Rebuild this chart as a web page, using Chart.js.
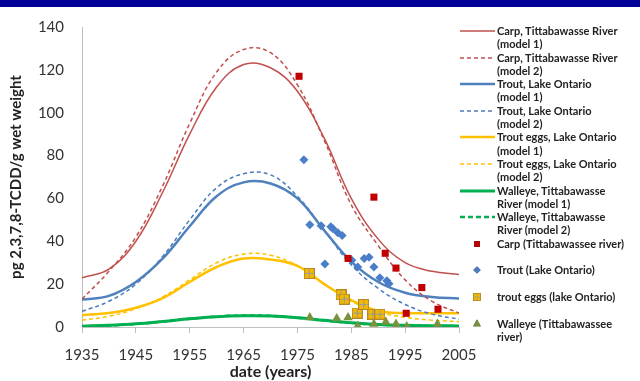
<!DOCTYPE html>
<html lang="en">
<head>
<meta charset="UTF-8" />
<title>TCDD in fish over time</title>
<script src="https://cdn.jsdelivr.net/npm/chart.js"></script>
<style>
  html, body { margin: 0; padding: 0; background: #fff; }
  #wrap { position: relative; width: 640px; height: 381px; overflow: hidden; }
  #topbar { position: absolute; left: 0; top: 0; width: 640px; height: 7px; background: #000099; }
  #legend {
    position: absolute; left: 458px; top: 24px; width: 182px;
    font-family: Lato, "Open Sans", sans-serif; font-weight: 700; font-size: 11px;
    line-height: 13.3px; color: #222;
  }
  .item { position: relative; height: 26.6px; }
  .item canvas { position: absolute; left: 0; top: 0; }
  .item span { position: absolute; left: 39px; top: 0; white-space: nowrap; }
</style>
</head>
<body>
<div id="wrap">
  <canvas id="chart" width="640" height="381"></canvas>
  <div id="topbar"></div>
  <div id="legend"></div>
</div>
<script>
  // model curves, read every 5 years
  const years = [1935, 1940, 1945, 1950, 1955, 1960, 1965, 1970, 1975, 1980, 1985, 1990, 1995, 2000, 2005];
  const carpModel1 = [23, 27, 40, 63, 90, 112, 122.5, 121, 110, 88, 60, 41, 30, 26, 24.5];
  const carpModel2 = [13, 26, 42, 66, 95, 119, 129.5, 128, 113, 87, 57, 38, 22, 12, 6.5];
  const troutModel1 = [12.8, 14.5, 21, 32, 47, 61, 67.5, 67, 60, 45, 30.5, 21, 16, 14, 13.3];
  const troutModel2 = [7.3, 12, 20, 33, 50, 65, 71.5, 71, 61, 45, 29, 18, 10.5, 6, 3.7];
  const eggsModel1 = [5.5, 6.5, 9, 13.5, 21, 28, 32, 31.5, 28.5, 20, 12.5, 7.5, 6.5, 6.4, 6.4];
  const eggsModel2 = [3.2, 5, 8.5, 14, 22, 30, 34, 33.5, 28.5, 20, 12, 7, 4.5, 3.2, 2.5];
  const walleyeModel1 = [0.4, 0.8, 1.5, 2.6, 3.8, 4.8, 5.2, 5.1, 4.3, 3.1, 2, 1.2, 0.8, 0.6, 0.5];
  const walleyeModel2 = [0.3, 0.7, 1.4, 2.5, 3.8, 4.9, 5.4, 5.2, 4.3, 3, 1.9, 1.1, 0.7, 0.5, 0.4];

  // measured samples
  const carpYears = [1975.3, 1984.4, 1989.2, 1991.3, 1993.3, 1995.2, 1998.1, 2001.1];
  const carpValues = [117, 32, 60.6, 34.4, 27.5, 6.4, 18.4, 8.3];
  const troutYears = [1976.2, 1977.3, 1979.4, 1980.1, 1981.2, 1981.6, 1982.5, 1983.3, 1985.1, 1986.2, 1987.4, 1988.3, 1989.2, 1990.3, 1991.6, 1992];
  const troutValues = [78, 47.7, 47.3, 29.4, 46.8, 45.9, 44, 42.7, 31.2, 28, 32, 32.6, 28, 23, 21.6, 20.2];
  const eggYears = [1977.2, 1983.1, 1983.7, 1986.1, 1987.3, 1989, 1990.3];
  const eggValues = [25, 15, 13, 6.5, 10.5, 6, 6];
  const walleyeYears = [1977.3, 1982.3, 1984.4, 1986.2, 1989.2, 1991.4, 1993.3, 1995.3, 2001];
  const walleyeValues = [4.4, 4, 4.4, 0.5, 1.4, 2.3, 1.4, 0.2, 1.4];

  const xTicks = [1935, 1945, 1955, 1965, 1975, 1985, 1995, 2005];

  const pts = (xs, ys) => xs.map((x, i) => ({ x: x, y: ys[i] }));

  // yellow square with a plus, for the trout eggs
  function eggMarker() {
    const c = document.createElement('canvas');
    c.width = 11; c.height = 11;
    const g = c.getContext('2d');
    g.fillStyle = '#F5B800';
    g.fillRect(0, 0, 11, 11);
    g.strokeStyle = '#B08A2A';
    g.lineWidth = 1;
    g.strokeRect(0.5, 0.5, 10, 10);
    g.strokeStyle = '#8E9BA8';
    g.beginPath();
    g.moveTo(5.5, 1.5); g.lineTo(5.5, 9.5);
    g.moveTo(1.5, 5.5); g.lineTo(9.5, 5.5);
    g.stroke();
    return c;
  }
  const eggIcon = eggMarker();

  function curve(label, lines, values, color, width, dash) {
    return {
      label: label, legendLines: lines,
      data: pts(years, values),
      borderColor: color, backgroundColor: color,
      borderWidth: width, borderDash: dash || [],
      pointRadius: 0, tension: 0.4,
      fill: false, order: 2
    };
  }
  function marks(label, lines, xs, ys, color, style, radius) {
    return {
      label: label, legendLines: lines,
      data: pts(xs, ys), showLine: false,
      pointStyle: style, pointRadius: radius,
      backgroundColor: color, borderColor: color, borderWidth: 0,
      order: 1
    };
  }

  const datasets = [
    curve('Carp, Tittabawasse River (model 1)', ['Carp, Tittabawasse River', '(model 1)'], carpModel1, '#C0504D', 1.5),
    curve('Carp, Tittabawasse River (model 2)', ['Carp, Tittabawasse River', '(model 2)'], carpModel2, '#C0504D', 1.5, [4, 3]),
    curve('Trout, Lake Ontario (model 1)', ['Trout, Lake Ontario', '(model 1)'], troutModel1, '#4F81BD', 2.5),
    curve('Trout, Lake Ontario (model 2)', ['Trout, Lake Ontario', '(model 2)'], troutModel2, '#4A7EBB', 1.5, [4, 3]),
    curve('Trout eggs, Lake Ontario (model 1)', ['Trout eggs, Lake Ontario', '(model 1)'], eggsModel1, '#FFC000', 2.5),
    curve('Trout eggs, Lake Ontario (model 2)', ['Trout eggs, Lake Ontario', '(model 2)'], eggsModel2, '#FFC000', 1.5, [4, 3]),
    curve('Walleye, Tittabawasse River (model 1)', ['Walleye, Tittabawasse', 'River (model 1)'], walleyeModel1, '#00B050', 3),
    curve('Walleye, Tittabawasse River (model 2)', ['Walleye, Tittabawasse', 'River (model 2)'], walleyeModel2, '#00B050', 2.5, [5, 3]),
    marks('Carp (Tittabawassee river)', ['Carp (Tittabawassee river)'], carpYears, carpValues, '#C00000', 'rect', 5),
    marks('Trout (Lake Ontario)', ['Trout (Lake Ontario)'], troutYears, troutValues, '#4A7EC8', 'rectRot', 4.5),
    marks('trout eggs (lake Ontario)', ['trout eggs (lake Ontario)'], eggYears, eggValues, '#F5B800', eggIcon, 5),
    marks('Walleye (Tittabawassee river)', ['Walleye (Tittabawassee', 'river)'], walleyeYears, walleyeValues, '#77933C', 'triangle', 5.5)
  ];

  const axisGrey = '#BFBFBF';
  const tickFont = { family: 'Lato, "Open Sans", sans-serif', size: 15 };

  new Chart(document.getElementById('chart'), {
    type: 'line',
    data: { datasets: datasets },
    options: {
      responsive: false,
      animation: false,
      layout: { padding: { left: 0, right: 181, top: 22, bottom: 0 } },
      plugins: { legend: { display: false }, tooltip: { enabled: false } },
      scales: {
        x: {
          type: 'linear', min: 1935, max: 2005,
          afterBuildTicks: s => { s.ticks = xTicks.map(v => ({ value: v })); },
          afterFit: s => { s.height = 54; },
          ticks: { font: tickFont, color: '#333', padding: 13, maxRotation: 0, callback: v => String(v) },
          grid: { drawOnChartArea: false, drawTicks: true, tickLength: 6, color: axisGrey },
          border: { color: axisGrey },
          title: { display: true, text: 'date (years)', color: '#222', padding: { top: 0, bottom: 0 },
                   font: { family: 'Lato, "Open Sans", sans-serif', size: 16, weight: 'bold' } }
        },
        y: {
          min: 0, max: 140,
          afterFit: s => { s.width = 82; },
          ticks: { stepSize: 20, font: tickFont, color: '#333', padding: 18 },
          grid: { drawOnChartArea: false, drawTicks: false, color: axisGrey },
          border: { color: axisGrey },
          title: { display: true, text: 'pg 2,3,7,8-TCDD/g wet weight', color: '#222', padding: { top: 7, bottom: 0 },
                   font: { family: 'Lato, "Open Sans", sans-serif', size: 15, weight: 'bold' } }
        }
      }
    }
  });

  // legend with wrapped labels, drawn beside the plot
  const legend = document.getElementById('legend');
  datasets.forEach(ds => {
    const item = document.createElement('div');
    item.className = 'item';
    const c = document.createElement('canvas');
    c.width = 38; c.height = 14;
    const g = c.getContext('2d');
    if (ds.showLine === false) {
      const cx = 19, cy = 7;
      if (ds.pointStyle instanceof HTMLCanvasElement) {
        g.drawImage(ds.pointStyle, cx - 4, cy - 4, 8, 8);
      } else {
        Chart.helpers.drawPoint(g, { pointStyle: ds.pointStyle, radius: ds.pointRadius * 0.8, borderWidth: 0 }, cx, cy);
        g.fillStyle = ds.backgroundColor;
        g.fill();
      }
    } else {
      g.strokeStyle = ds.borderColor;
      g.lineWidth = ds.borderWidth;
      g.setLineDash(ds.borderDash);
      g.beginPath(); g.moveTo(2, 7); g.lineTo(37, 7); g.stroke();
    }
    item.appendChild(c);
    const span = document.createElement('span');
    span.innerHTML = ds.legendLines.join('<br>');
    item.appendChild(span);
    legend.appendChild(item);
  });
</script>
</body>
</html>
